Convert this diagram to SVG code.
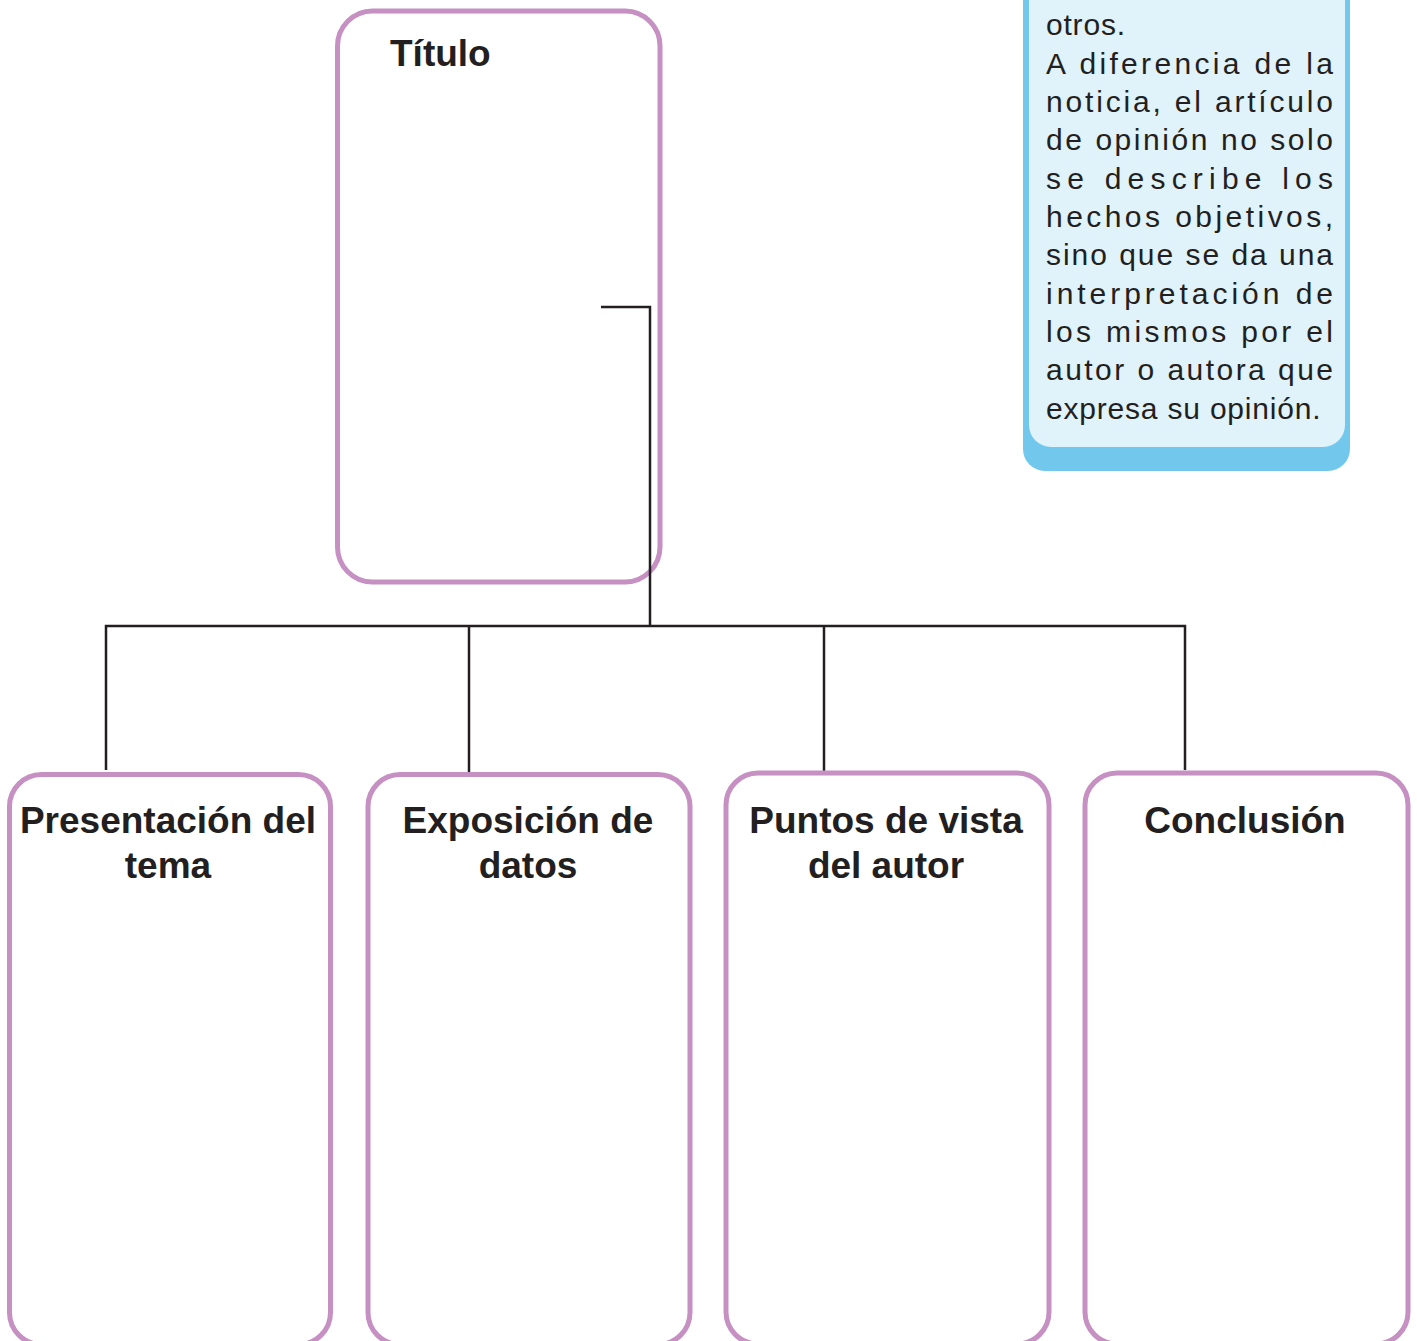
<svg xmlns="http://www.w3.org/2000/svg" width="1417" height="1341" viewBox="0 0 1417 1341">
<style>
.box{fill:#fff;stroke:#C690C3;stroke-width:5}
.ttl{font-family:"Liberation Sans",Arial,sans-serif;font-weight:bold;font-size:37px;fill:#231F20}
.ttlc{text-anchor:middle}
.body{font-family:"Liberation Sans",Arial,sans-serif;font-size:30px;fill:#231F20}
.free{letter-spacing:0.8px}
.conn{fill:none;stroke:#231F20;stroke-width:2.5}
</style>
<rect width="1417" height="1341" fill="#fff"/>
<g id="note">
<path d="M1023,-10 H1350 V449 A22,22 0 0 1 1328,471 H1045 A22,22 0 0 1 1023,449 Z" fill="#72C8EC"/>
<path d="M1029,-10 H1345 V425 A22,22 0 0 1 1323,447 H1051 A22,22 0 0 1 1029,425 Z" fill="#E0F2FA"/>
<text class="body free" x="1046" y="35">otros.</text>
<text class="body" x="1046" y="73.5" textLength="287" lengthAdjust="spacing">A diferencia de la</text>
<text class="body" x="1046" y="112" textLength="287" lengthAdjust="spacing">noticia, el artículo</text>
<text class="body" x="1046" y="150" textLength="287" lengthAdjust="spacing">de opinión no solo</text>
<text class="body" x="1046" y="188.5" textLength="287" lengthAdjust="spacing">se describe los</text>
<text class="body" x="1046" y="227" textLength="287" lengthAdjust="spacing">hechos objetivos,</text>
<text class="body" x="1046" y="265" textLength="287" lengthAdjust="spacing">sino que se da una</text>
<text class="body" x="1046" y="303.5" textLength="287" lengthAdjust="spacing">interpretación de</text>
<text class="body" x="1046" y="342" textLength="287" lengthAdjust="spacing">los mismos  por  el</text>
<text class="body" x="1046" y="380" textLength="287" lengthAdjust="spacing">autor o autora que</text>
<text class="body free" x="1046" y="418.5">expresa su opinión.</text>
</g>
<g id="titulo">
<rect class="box" x="337.5" y="11" width="322.5" height="571" rx="35"/>
<text class="ttl" x="390" y="66">Título</text>
</g>
<g id="connectors">
<path class="conn" d="M601,307 H650 V626"/>
<path class="conn" d="M106,770 V626 H1185 V770"/>
<path class="conn" d="M469,626 V772"/>
<path class="conn" d="M824,626 V771"/>
</g>
<g id="presentacion">
<rect class="box" x="9.5" y="774.5" width="321" height="570" rx="32"/>
<text class="ttl ttlc" x="168" y="833">Presentación del</text>
<text class="ttl ttlc" x="168" y="878">tema</text>
</g>
<g id="exposicion">
<rect class="box" x="368" y="774.5" width="322" height="570" rx="32"/>
<text class="ttl ttlc" x="528" y="833">Exposición de</text>
<text class="ttl ttlc" x="528" y="878">datos</text>
</g>
<g id="puntos">
<rect class="box" x="726" y="773" width="323" height="571" rx="32"/>
<text class="ttl ttlc" x="886" y="833">Puntos de vista</text>
<text class="ttl ttlc" x="886" y="878">del autor</text>
</g>
<g id="conclusion">
<rect class="box" x="1085" y="773" width="323" height="571" rx="32"/>
<text class="ttl ttlc" x="1245" y="833">Conclusión</text>
</g>
</svg>
